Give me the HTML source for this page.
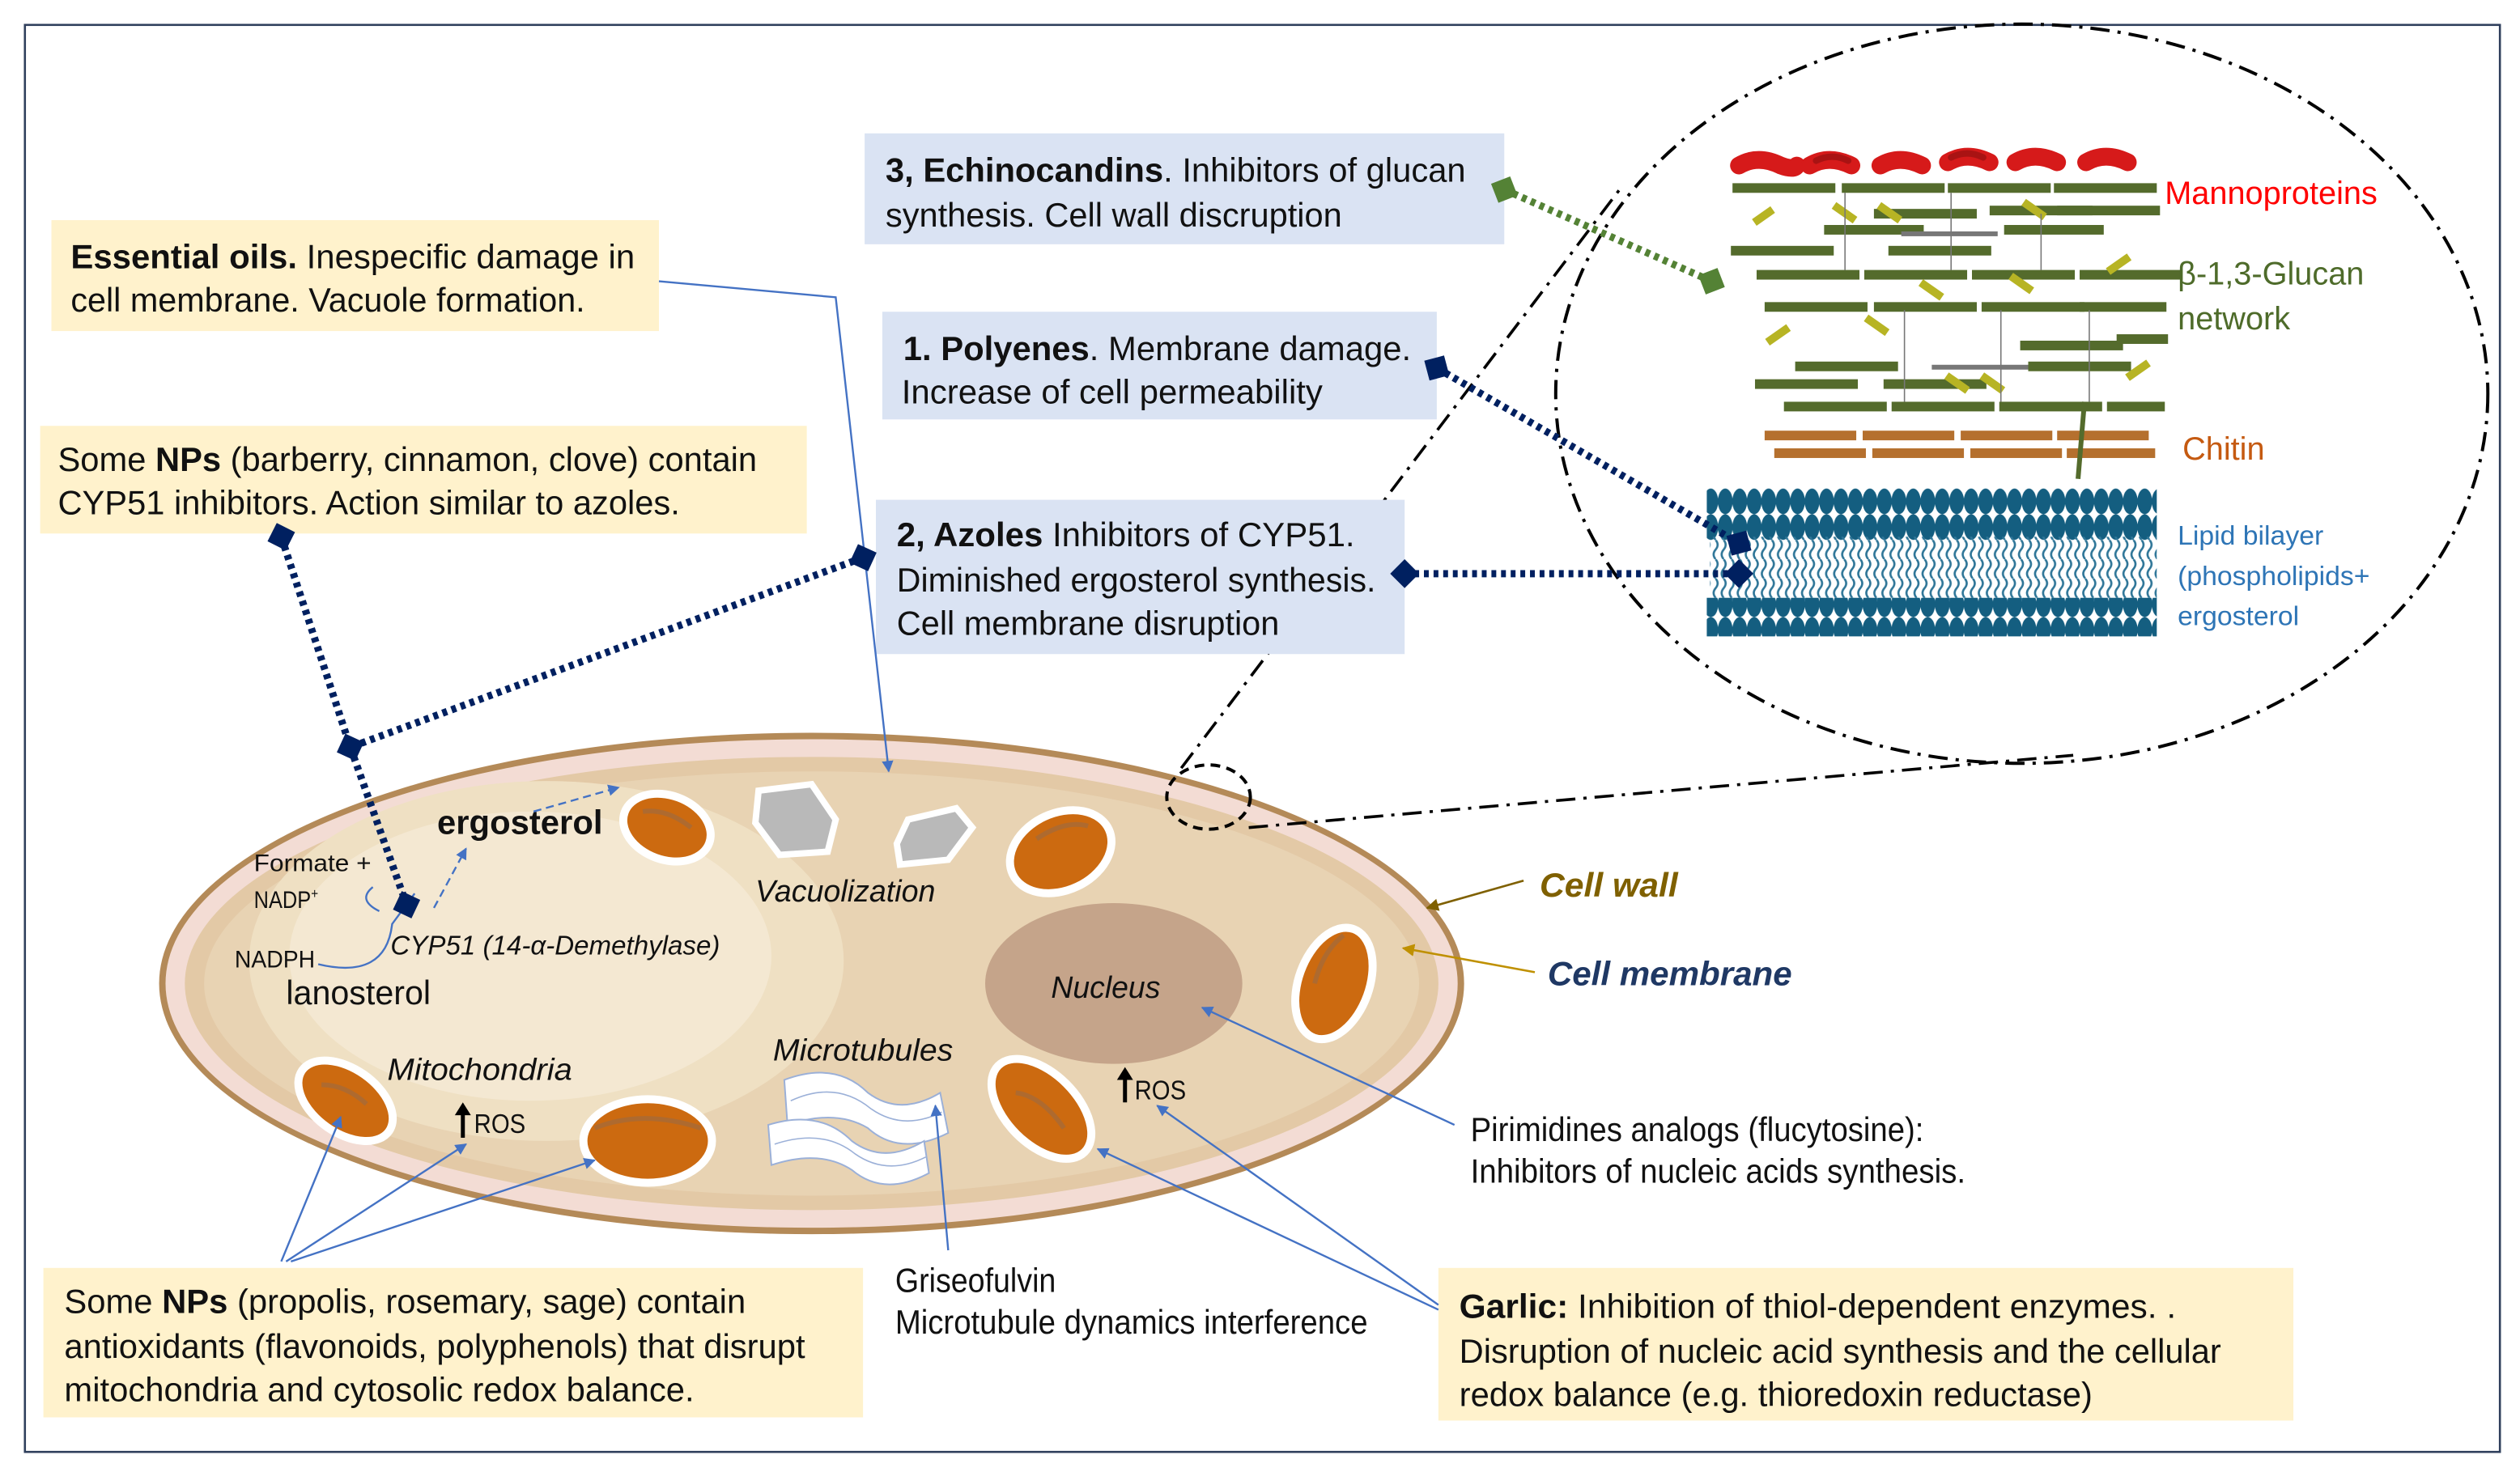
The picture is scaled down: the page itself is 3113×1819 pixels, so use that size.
<!DOCTYPE html>
<html><head><meta charset="utf-8"><style>
html,body{margin:0;padding:0;background:#fff;}
svg{display:block;}
text{font-family:"Liberation Sans Narrow","Liberation Sans",sans-serif;}
</style></head><body>
<svg width="3113" height="1819" viewBox="0 0 1568 916" preserveAspectRatio="none" xmlns="http://www.w3.org/2000/svg">
<defs>
<marker id="ab" viewBox="0 0 10 10" refX="9" refY="5" markerWidth="6" markerHeight="6" orient="auto"><path d="M0,0L10,5L0,10z" fill="#4472c4"/></marker>
<marker id="ag" viewBox="0 0 10 10" refX="9" refY="5" markerWidth="6" markerHeight="6" orient="auto"><path d="M0,0L10,5L0,10z" fill="#7f6000"/></marker>
<marker id="ay" viewBox="0 0 10 10" refX="9" refY="5" markerWidth="6" markerHeight="6" orient="auto"><path d="M0,0L10,5L0,10z" fill="#bf9000"/></marker>
<marker id="dn" viewBox="0 0 10 10" refX="5" refY="5" markerWidth="4" markerHeight="4" orient="auto"><path d="M0,5L5,0L10,5L5,10z" fill="#002060"/></marker>
<marker id="dg" viewBox="0 0 10 10" refX="5" refY="5" markerWidth="4" markerHeight="4" orient="auto"><path d="M0,5L5,0L10,5L5,10z" fill="#548235"/></marker>
<pattern id="heads" x="1060" y="0" width="9" height="16" patternUnits="userSpaceOnUse"><ellipse cx="4.5" cy="8" rx="4.6" ry="8" fill="#145e80"/></pattern>
<pattern id="tails" x="1060" y="0" width="5" height="12" patternUnits="userSpaceOnUse"><path d="M2.5,0 Q5,3 2.5,6 Q0,9 2.5,12" stroke="#2f7698" stroke-width="1.3" fill="none"/></pattern>
</defs>
<rect x="0" y="0" width="1568" height="916" fill="#fff"/>
<rect x="15.5" y="15.5" width="1540" height="888" fill="none" stroke="#2f3f5c" stroke-width="1.3"/>

<!-- cell -->
<ellipse cx="505" cy="612" rx="406" ry="156" fill="#b48a58"/>
<ellipse cx="505" cy="612" rx="402" ry="152" fill="#f3dcd4"/>
<ellipse cx="505" cy="612" rx="390" ry="141" fill="#e3c9a6"/>
<ellipse cx="505" cy="612" rx="378" ry="132" fill="#e8d3b3"/>
<ellipse cx="340" cy="598" rx="185" ry="112" fill="#efe0c3"/>
<ellipse cx="330" cy="595" rx="150" ry="90" fill="#f4e8d2"/>
<ellipse cx="693" cy="612" rx="80" ry="50" fill="#c5a48a"/>
<!-- vacuoles -->
<path d="M472,492 L505,488 L520,510 L515,530 L485,532 L470,512Z" fill="#b9b9b9" stroke="#fff" stroke-width="4"/>
<path d="M565,510 L595,503 L605,515 L590,535 L560,538 L558,525Z" fill="#b9b9b9" stroke="#fff" stroke-width="4"/>
<!-- mitochondria -->
<g stroke="#fff" stroke-width="5" fill="#cc6a10">
<ellipse cx="415" cy="515" rx="28" ry="20" transform="rotate(20 415 515)"/>
<ellipse cx="660" cy="530" rx="33" ry="24" transform="rotate(-25 660 530)"/>
<ellipse cx="830" cy="612" rx="22" ry="36" transform="rotate(20 830 612)"/>
<ellipse cx="215" cy="685" rx="33" ry="20" transform="rotate(35 215 685)"/>
<ellipse cx="403" cy="710" rx="40" ry="26"/>
<ellipse cx="648" cy="690" rx="38" ry="22" transform="rotate(45 648 690)"/>
</g>
<g fill="none" stroke="#9a6a45" stroke-width="3" opacity="0.6">
<path d="M400,505 q15,-2 30,10"/><path d="M645,522 q18,-12 32,-8"/><path d="M370,702 q30,-12 66,0"/><path d="M200,675 q15,0 28,12"/><path d="M632,680 q16,2 30,22"/><path d="M818,612 q5,-20 18,-30"/>
</g>
<!-- microtubules -->
<g fill="#fff" stroke="#9bb0d8" stroke-width="1">
<path d="M488,672 Q520,660 540,680 Q560,695 585,680 L590,705 Q560,720 540,702 Q520,690 490,700Z"/>
<path d="M478,700 Q510,690 530,710 Q550,725 575,710 L578,730 Q550,745 530,728 Q510,715 480,725Z"/>
</g>
<g fill="none" stroke="#9bb0d8" stroke-width="0.8">
<path d="M492,685 Q520,672 542,690 Q562,704 586,692"/><path d="M482,712 Q512,702 532,718 Q552,732 576,720"/>
</g>

<!-- big dash-dot ellipse & zoom circle -->
<ellipse cx="1258" cy="245" rx="290" ry="230" fill="none" stroke="#000" stroke-width="2" stroke-dasharray="12,5,2,5"/>
<ellipse cx="752" cy="496" rx="26" ry="20" fill="none" stroke="#000" stroke-width="2" stroke-dasharray="6,4"/>
<path d="M735,478 L1010,115" stroke="#000" stroke-width="1.8" fill="none" stroke-dasharray="12,5,2,5"/>
<path d="M777,515 L1290,470" stroke="#000" stroke-width="1.8" fill="none" stroke-dasharray="12,5,2,5"/>

<!-- cell wall layers -->
<g stroke="#d61a1a" stroke-width="11" stroke-linecap="round" fill="none">
<path d="M1082,103 q12,-7 26,0 q8,3 10,0"/><path d="M1126,103 q12,-7 26,0"/><path d="M1170,103 q12,-7 26,0"/><path d="M1212,101 q12,-7 26,0"/><path d="M1254,101 q12,-7 26,0"/><path d="M1298,101 q12,-7 26,0"/>
</g>
<g stroke="#8b0f0f" stroke-width="4" stroke-linecap="round" fill="none" opacity="0.6">
<path d="M1130,100 q10,-5 20,0"/><path d="M1214,98 q10,-5 20,0"/>
</g>
<g fill="#546b2c">
<rect x="1078" y="114" width="64" height="6"/><rect x="1146" y="114" width="64" height="6"/><rect x="1212" y="114" width="64" height="6"/><rect x="1278" y="114" width="64" height="6"/>
<rect x="1238" y="128" width="64" height="6"/><rect x="1166" y="130" width="64" height="6"/><rect x="1280" y="128" width="64" height="6"/>
<rect x="1135" y="140" width="62" height="6"/><rect x="1247" y="140" width="62" height="6"/>
<rect x="1077" y="153" width="64" height="6"/><rect x="1175" y="153" width="64" height="6"/>
<rect x="1093" y="168" width="64" height="6"/><rect x="1160" y="168" width="64" height="6"/><rect x="1227" y="168" width="64" height="6"/><rect x="1294" y="168" width="64" height="6"/>
<rect x="1098" y="188" width="64" height="6"/><rect x="1166" y="188" width="64" height="6"/><rect x="1233" y="188" width="64" height="6"/><rect x="1294" y="188" width="54" height="6"/>
<rect x="1257" y="212" width="64" height="6"/><rect x="1317" y="208" width="32" height="6"/>
<rect x="1117" y="225" width="64" height="6"/><rect x="1262" y="225" width="64" height="6"/>
<rect x="1092" y="236" width="64" height="6"/><rect x="1172" y="236" width="64" height="6"/>
<rect x="1110" y="250" width="64" height="6"/><rect x="1177" y="250" width="64" height="6"/><rect x="1244" y="250" width="64" height="6"/><rect x="1311" y="250" width="36" height="6"/>
</g>
<g fill="#b7b424">
<rect x="1090" y="132" width="14" height="5" transform="rotate(-35 1097 134)"/><rect x="1140" y="130" width="16" height="5" transform="rotate(35 1148 132)"/><rect x="1168" y="130" width="16" height="5" transform="rotate(35 1176 132)"/><rect x="1258" y="128" width="16" height="5" transform="rotate(35 1266 130)"/>
<rect x="1194" y="178" width="16" height="5" transform="rotate(35 1202 180)"/><rect x="1250" y="174" width="16" height="5" transform="rotate(35 1258 176)"/><rect x="1310" y="162" width="16" height="5" transform="rotate(-35 1318 164)"/>
<rect x="1098" y="206" width="16" height="5" transform="rotate(-35 1106 208)"/><rect x="1160" y="200" width="16" height="5" transform="rotate(35 1168 202)"/><rect x="1210" y="236" width="16" height="5" transform="rotate(35 1218 238)"/><rect x="1232" y="236" width="16" height="5" transform="rotate(35 1240 238)"/><rect x="1322" y="228" width="16" height="5" transform="rotate(-35 1330 230)"/>
</g>
<rect x="1183" y="144" width="60" height="3" fill="#777"/><rect x="1202" y="227" width="60" height="3" fill="#777"/>
<g stroke="#777" stroke-width="0.8"><line x1="1148" y1="120" x2="1148" y2="168"/><line x1="1214" y1="120" x2="1214" y2="168"/><line x1="1270" y1="133" x2="1270" y2="168"/><line x1="1185" y1="193" x2="1185" y2="250"/><line x1="1245" y1="193" x2="1245" y2="250"/><line x1="1300" y1="193" x2="1300" y2="250"/></g>
<g fill="#b5702e">
<rect x="1098" y="268" width="57" height="6"/><rect x="1159" y="268" width="57" height="6"/><rect x="1220" y="268" width="57" height="6"/><rect x="1280" y="268" width="57" height="6"/>
<rect x="1104" y="279" width="57" height="6"/><rect x="1165" y="279" width="57" height="6"/><rect x="1226" y="279" width="57" height="6"/><rect x="1286" y="279" width="55" height="6"/>
</g>
<line x1="1297" y1="250" x2="1293" y2="298" stroke="#546b2c" stroke-width="3"/>
<rect x="1062" y="304" width="280" height="32" fill="url(#heads)"/>
<rect x="1064" y="334" width="278" height="40" fill="url(#tails)"/>
<rect x="1062" y="372" width="280" height="24" fill="url(#heads)"/>

<text x="1347" y="127" font-size="20" fill="#ff0000" font-family="Liberation Sans">Mannoproteins</text>
<text x="1355" y="177" font-size="20" fill="#4e6b2a" font-family="Liberation Sans">β-1,3-Glucan</text>
<text x="1355" y="205" font-size="20" fill="#4e6b2a" font-family="Liberation Sans">network</text>
<text x="1358" y="286" font-size="20" fill="#c55a11" font-family="Liberation Sans">Chitin</text>
<text x="1355" y="339" font-size="17" fill="#2e75b6" font-family="Liberation Sans">Lipid bilayer</text>
<text x="1355" y="364" font-size="17" fill="#2e75b6" font-family="Liberation Sans">(phospholipids+</text>
<text x="1355" y="389" font-size="17" fill="#2e75b6" font-family="Liberation Sans">ergosterol</text>

<!-- boxes -->
<rect x="32" y="137" width="378" height="69" fill="#fff2cc"/>
<rect x="25" y="265" width="477" height="67" fill="#fff2cc"/>
<rect x="538" y="83" width="398" height="69" fill="#dae3f3"/>
<rect x="549" y="194" width="345" height="67" fill="#dae3f3"/>
<rect x="545" y="311" width="329" height="96" fill="#dae3f3"/>
<rect x="27" y="789" width="510" height="93" fill="#fff2cc"/>
<rect x="895" y="789" width="532" height="95" fill="#fff2cc"/>

<g font-size="21" fill="#111">
<text x="44" y="167" textLength="351" lengthAdjust="spacingAndGlyphs"><tspan font-weight="bold">Essential oils.</tspan> Inespecific damage in</text>
<text x="44" y="194" textLength="320" lengthAdjust="spacingAndGlyphs">cell membrane. Vacuole formation.</text>
<text x="36" y="293" textLength="435" lengthAdjust="spacingAndGlyphs">Some <tspan font-weight="bold">NPs</tspan> (barberry, cinnamon, clove) contain</text>
<text x="36" y="320" textLength="387" lengthAdjust="spacingAndGlyphs">CYP51 inhibitors. Action similar to azoles.</text>
<text x="551" y="113" textLength="361" lengthAdjust="spacingAndGlyphs"><tspan font-weight="bold">3, Echinocandins</tspan>. Inhibitors  of glucan</text>
<text x="551" y="141" textLength="284" lengthAdjust="spacingAndGlyphs">synthesis.  Cell wall discruption</text>
<text x="562" y="224" textLength="316" lengthAdjust="spacingAndGlyphs"><tspan font-weight="bold">1. Polyenes</tspan>. Membrane damage.</text>
<text x="561" y="251" textLength="262" lengthAdjust="spacingAndGlyphs">Increase  of cell permeability</text>
<text x="558" y="340" textLength="285" lengthAdjust="spacingAndGlyphs"><tspan font-weight="bold">2, Azoles</tspan> Inhibitors  of CYP51.</text>
<text x="558" y="368" textLength="298" lengthAdjust="spacingAndGlyphs">Diminished ergosterol synthesis.</text>
<text x="558" y="395" textLength="238" lengthAdjust="spacingAndGlyphs">Cell membrane disruption</text>
<text x="40" y="817" textLength="424" lengthAdjust="spacingAndGlyphs">Some <tspan font-weight="bold">NPs</tspan> (propolis, rosemary, sage) contain</text>
<text x="40" y="845" textLength="461" lengthAdjust="spacingAndGlyphs">antioxidants (flavonoids, polyphenols) that disrupt</text>
<text x="40" y="872" textLength="392" lengthAdjust="spacingAndGlyphs">mitochondria and cytosolic redox balance.</text>
<text x="908" y="820" textLength="446" lengthAdjust="spacingAndGlyphs"><tspan font-weight="bold">Garlic:</tspan> Inhibition  of thiol-dependent  enzymes.   .</text>
<text x="908" y="848" textLength="474" lengthAdjust="spacingAndGlyphs">Disruption of nucleic acid synthesis and the cellular</text>
<text x="908" y="875" textLength="394" lengthAdjust="spacingAndGlyphs">redox balance (e.g. thioredoxin reductase)</text>
<text x="915" y="710" textLength="282" lengthAdjust="spacingAndGlyphs">Pirimidines analogs (flucytosine):</text>
<text x="915" y="736" textLength="308" lengthAdjust="spacingAndGlyphs">Inhibitors of nucleic acids synthesis.</text>
<text x="557" y="804" textLength="100" lengthAdjust="spacingAndGlyphs">Griseofulvin</text>
<text x="557" y="830" textLength="294" lengthAdjust="spacingAndGlyphs">Microtubule dynamics interference</text>
</g>

<!-- cell labels -->
<g fill="#111">
<text x="272" y="519" font-size="21" font-weight="bold" textLength="103" lengthAdjust="spacingAndGlyphs">ergosterol</text>
<text x="158" y="542" font-size="15" textLength="73" lengthAdjust="spacingAndGlyphs">Formate +</text>
<text x="158" y="565" font-size="15" textLength="40" lengthAdjust="spacingAndGlyphs">NADP<tspan font-size="9" dy="-6">+</tspan></text>
<text x="146" y="602" font-size="15" textLength="50" lengthAdjust="spacingAndGlyphs">NADPH</text>
<text x="178" y="625" font-size="21" textLength="90" lengthAdjust="spacingAndGlyphs">lanosterol</text>
<text x="243" y="594" font-size="17" font-style="italic" textLength="205" lengthAdjust="spacingAndGlyphs">CYP51 (14-α-Demethylase)</text>
<text x="470" y="561" font-size="19" font-style="italic" textLength="112" lengthAdjust="spacingAndGlyphs">Vacuolization</text>
<text x="654" y="621" font-size="19" font-style="italic" textLength="68" lengthAdjust="spacingAndGlyphs">Nucleus</text>
<text x="481" y="660" font-size="19" font-style="italic" textLength="112" lengthAdjust="spacingAndGlyphs">Microtubules</text>
<text x="241" y="672" font-size="19" font-style="italic" textLength="115" lengthAdjust="spacingAndGlyphs">Mitochondria</text>
<text x="295" y="705" font-size="17" textLength="32" lengthAdjust="spacingAndGlyphs">ROS</text>
<text x="706" y="684" font-size="17" textLength="32" lengthAdjust="spacingAndGlyphs">ROS</text>
</g>
<g stroke="#000" stroke-width="2.5"><line x1="288" y1="708" x2="288" y2="692"/><line x1="700" y1="686" x2="700" y2="670"/></g>
<path d="M283,694 L288,686 L293,694Z M695,672 L700,664 L705,672Z" fill="#000"/>
<text x="958" y="558" font-size="21" font-weight="bold" font-style="italic" fill="#7f6000" textLength="86" lengthAdjust="spacingAndGlyphs">Cell wall</text>
<text x="963" y="613" font-size="21" font-weight="bold" font-style="italic" fill="#1f3864" textLength="152" lengthAdjust="spacingAndGlyphs">Cell membrane</text>

<!-- arrows -->
<g stroke="#4472c4" stroke-width="1.2" fill="none" marker-end="url(#ab)">
<path d="M410,175 L520,185 L553,480"/>
<path d="M905,700 L748,627"/>
<path d="M895,815 L683,715"/>
<path d="M895,812 L720,688"/>
<path d="M590,778 L582,688"/>
<path d="M175,785 L212,695"/>
<path d="M178,785 L290,712"/>
<path d="M181,785 L370,722"/>
<path d="M270,565 L290,528" stroke-dasharray="5,3"/>
<path d="M332,505 L385,490" stroke-dasharray="5,3"/>
<path d="M236,567 Q222,560 232,552 M198,600 Q240,610 244,575 L258,556" marker-end="none"/>
</g>
<path d="M948,548 L888,565" stroke="#7f6000" stroke-width="1.3" marker-end="url(#ag)"/>
<path d="M955,605 L873,590" stroke="#bf9000" stroke-width="1.3" marker-end="url(#ay)"/>

<!-- dotted connectors -->
<g stroke="#002060" stroke-width="4.5" stroke-dasharray="3,3" fill="none">
<path d="M894,229 L1082,338" marker-start="url(#dn)" marker-end="url(#dn)"/>
<path d="M874,357 L1082,357" marker-start="url(#dn)" marker-end="url(#dn)"/>
<path d="M537,347 L218,465" marker-start="url(#dn)" marker-end="url(#dn)"/>
<path d="M175,334 L218,465 L253,563" marker-start="url(#dn)" marker-end="url(#dn)"/>
</g>
<path d="M936,118 L1065,175" stroke="#548235" stroke-width="4.5" stroke-dasharray="3,3" fill="none" marker-start="url(#dg)" marker-end="url(#dg)"/>
</svg>
</body></html>
